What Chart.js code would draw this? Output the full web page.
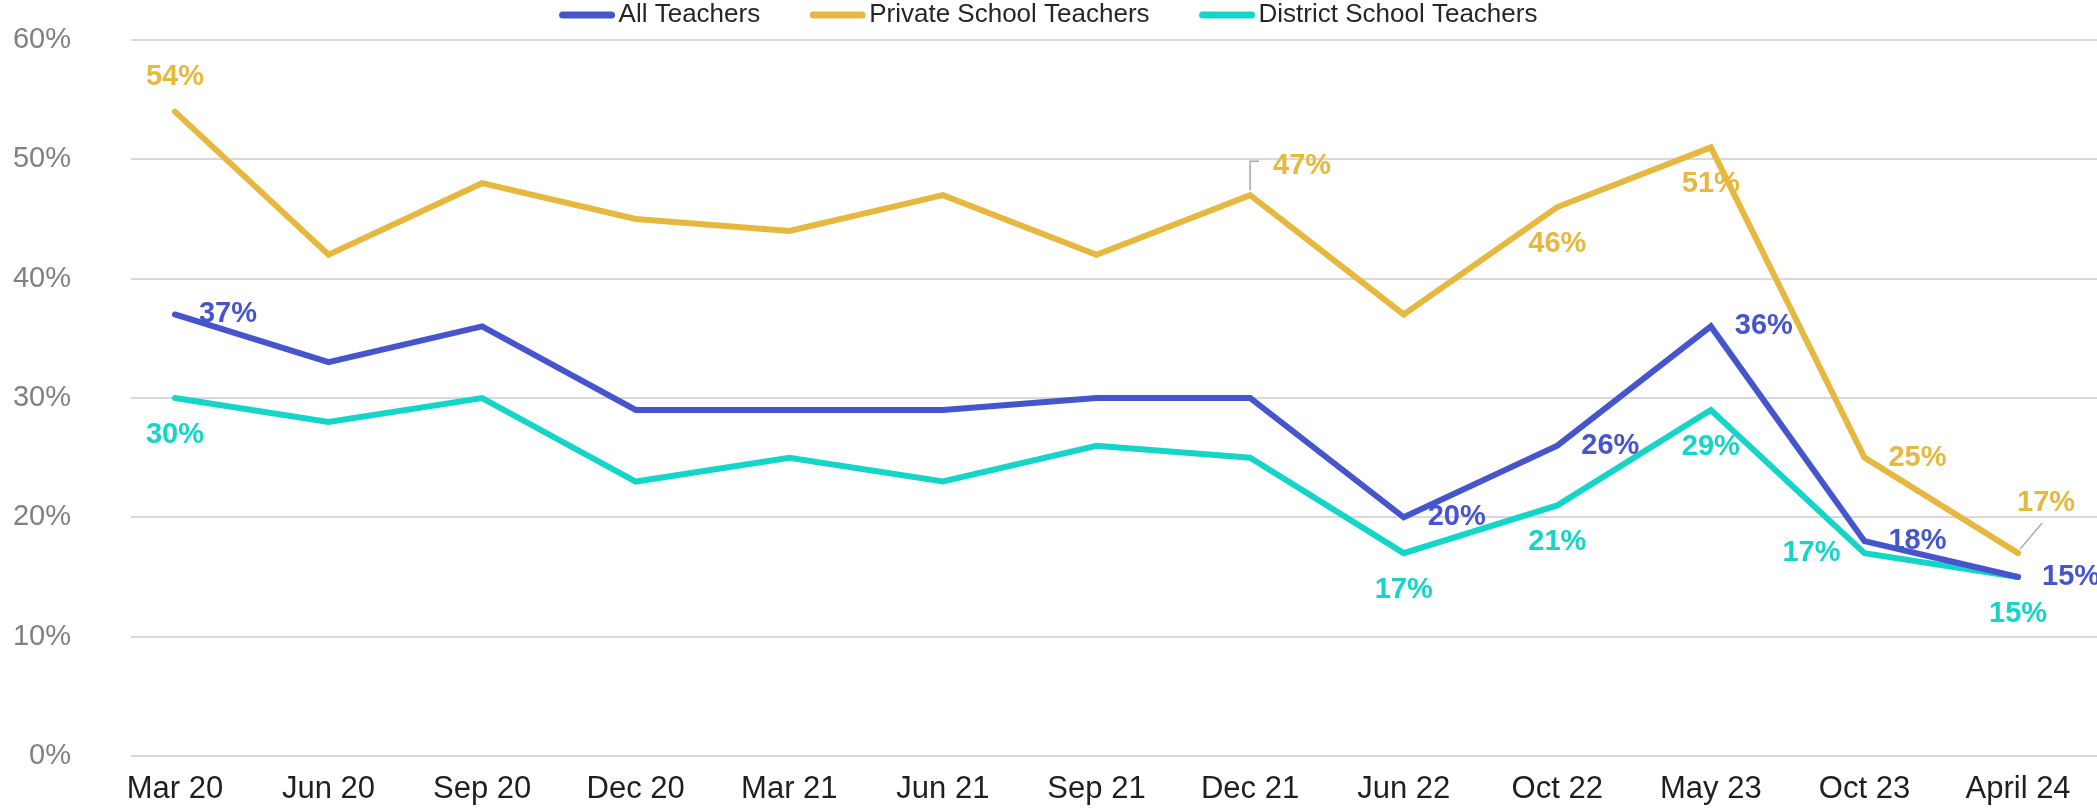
<!DOCTYPE html>
<html>
<head>
<meta charset="utf-8">
<script src="https://cdn.jsdelivr.net/npm/chart.js@4.4.0/dist/chart.umd.min.js"></script>
<style>
  html, body { margin: 0; padding: 0; background: #fff; }
  #wrap { width: 2097px; height: 810px; position: relative; }
</style>
</head>
<body>
<div id="wrap"><canvas id="chart"></canvas></div>
<script>
const periods = ["Mar 20", "Jun 20", "Sep 20", "Dec 20", "Mar 21", "Jun 21", "Sep 21", "Dec 21", "Jun 22", "Oct 22", "May 23", "Oct 23", "April 24"];
const allTeachers      = [37, 33, 36, 29, 29, 29, 30, 30, 20, 26, 36, 18, 15];
const privateTeachers  = [54, 42, 48, 45, 44, 47, 42, 47, 37, 46, 51, 25, 17];
const districtTeachers = [30, 28, 30, 23, 25, 23, 26, 25, 17, 21, 29, 17, 15];
const yTicks = [0, 10, 20, 30, 40, 50, 60];

// which points carry a value label, and on which side (null = no label)
const allLabelPos      = ["right", null, null, null, null, null, null, null, "right", "right", "right", "right", "right"];
const privateLabelPos  = ["above", null, null, null, null, null, null, "calloutUp", null, "below", "below", "right", "calloutRight"];
const districtLabelPos = ["below", null, null, null, null, null, null, null, "below", "below", "below", "left", "below"];

const BLUE = "#4655cc", GOLD = "#e6b83f", TEAL = "#14d5c7";
const FONT = "'Liberation Sans', Arial, sans-serif";

const series = [
  { label: "All Teachers", values: allTeachers, color: BLUE, pos: allLabelPos },
  { label: "Private School Teachers", values: privateTeachers, color: GOLD, pos: privateLabelPos },
  { label: "District School Teachers", values: districtTeachers, color: TEAL, pos: districtLabelPos }
];

// value labels next to the line points
const valueLabels = {
  id: "valueLabels",
  afterDatasetsDraw(chart) {
    const ctx = chart.ctx;
    ctx.save();
    ctx.font = "bold 29px " + FONT;
    ctx.textAlign = "center";
    ctx.textBaseline = "middle";
    chart.data.datasets.forEach((ds, di) => {
      const meta = chart.getDatasetMeta(di);
      ds.labelPos.forEach((p, i) => {
        if (!p) return;
        const pt = meta.data[i];
        const txt = ds.data[i].y + "%";
        let dx = 0, dy = 0;
        if (p === "right") dx = 53;
        else if (p === "left") dx = -53;
        else if (p === "above") dy = -35;
        else if (p === "below") dy = 37;
        else if (p === "calloutUp") {
          dx = 52; dy = -29;
          ctx.strokeStyle = "#a6a6a6"; ctx.lineWidth = 1.5;
          ctx.beginPath();
          ctx.moveTo(pt.x, pt.y - 5);
          ctx.lineTo(pt.x, pt.y - 34);
          ctx.lineTo(pt.x + 9, pt.y - 34);
          ctx.stroke();
        } else if (p === "calloutRight") {
          dx = 28; dy = -50;
          ctx.strokeStyle = "#a6a6a6"; ctx.lineWidth = 1.5;
          ctx.beginPath();
          ctx.moveTo(pt.x + 2, pt.y - 4);
          ctx.lineTo(pt.x + 24, pt.y - 30);
          ctx.stroke();
        }
        ctx.fillStyle = ds.borderColor;
        ctx.fillText(txt, pt.x + dx, pt.y + dy);
      });
    });
    ctx.restore();
  }
};

// legend drawn across the top, line swatch + text
const topLegend = {
  id: "topLegend",
  afterDraw(chart) {
    const ctx = chart.ctx;
    const swatch = 55, gapText = 4, gapItem = 50, cy = 15;
    ctx.save();
    ctx.font = "26px " + FONT;
    ctx.textBaseline = "middle";
    ctx.textAlign = "left";
    const widths = chart.data.datasets.map(ds => swatch + gapText + ctx.measureText(ds.label).width);
    const total = widths.reduce((a, b) => a + b, 0) + gapItem * (widths.length - 1);
    let x = chart.width / 2 - total / 2;
    chart.data.datasets.forEach((ds, i) => {
      ctx.strokeStyle = ds.borderColor;
      ctx.lineWidth = 7;
      ctx.lineCap = "round";
      ctx.beginPath();
      ctx.moveTo(x + 3, cy);
      ctx.lineTo(x + swatch - 3, cy);
      ctx.stroke();
      ctx.fillStyle = "#262626";
      ctx.fillText(ds.label, x + swatch + gapText, cy);
      x += widths[i] + gapItem;
    });
    ctx.restore();
  }
};

new Chart(document.getElementById("chart"), {
  type: "line",
  data: {
    datasets: series.map(s => ({
      label: s.label,
      data: s.values.map((v, i) => ({ x: i, y: v })),
      borderColor: s.color,
      backgroundColor: s.color,
      borderWidth: 6,
      borderCapStyle: "round",
      borderJoinStyle: "miter",
      pointRadius: 0,
      tension: 0,
      labelPos: s.pos
    }))
  },
  options: {
    responsive: true,
    maintainAspectRatio: false,
    animation: false,
    layout: { padding: { top: 40, right: 0, left: 0, bottom: 0 } },
    plugins: { legend: { display: false }, tooltip: { enabled: false } },
    scales: {
      x: {
        type: "linear",
        min: -0.286,
        max: 12.514,
        grid: { display: false, drawTicks: false },
        border: { display: false },
        afterBuildTicks(scale) { scale.ticks = periods.map((_, i) => ({ value: i })); },
        afterFit(scale) { scale.height = 54; },
        ticks: {
          autoSkip: false,
          maxRotation: 0,
          padding: 15,
          color: "#1f1f1f",
          font: { family: FONT, size: 31 },
          callback: v => periods[v]
        }
      },
      y: {
        min: 0,
        max: 60,
        afterBuildTicks(scale) { scale.ticks = yTicks.map(v => ({ value: v })); },
        afterFit(scale) {
          scale.width = 131;
          // tick padding is only meant horizontally
          scale.paddingTop = 0;
          scale.paddingBottom = 0;
        },
        grid: { color: "#d9d9d9", lineWidth: 2, drawTicks: false },
        border: { display: false },
        ticks: {
          padding: 60,
          color: "#808080",
          font: { family: FONT, size: 29 },
          callback: v => v + "%"
        }
      }
    }
  },
  plugins: [valueLabels, topLegend]
});
</script>
</body>
</html>
